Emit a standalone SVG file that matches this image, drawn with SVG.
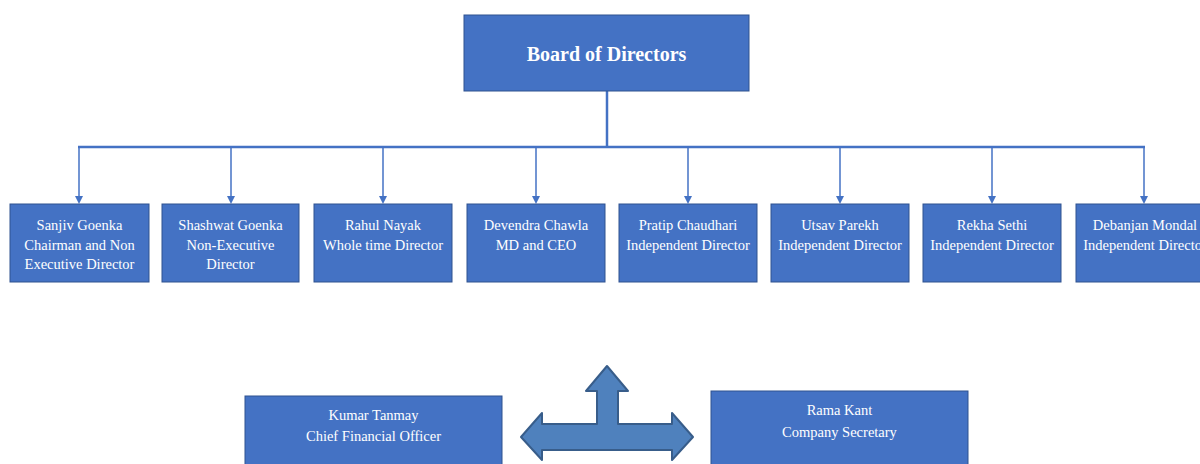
<svg xmlns="http://www.w3.org/2000/svg" width="1200" height="464" viewBox="0 0 1200 464">
<style>
.box{fill:#4472C4;stroke:#2F528F;stroke-width:1}
.t{font-family:"Liberation Serif","Times New Roman",serif;font-size:14.5px;fill:#FFFFFF;text-anchor:middle}
.b{font-family:"Liberation Serif","Times New Roman",serif;font-size:20px;font-weight:bold;fill:#FFFFFF;text-anchor:middle}
.ln{stroke:#4472C4;stroke-width:2.5;fill:none}
.dr{stroke:#4472C4;stroke-width:1.5;fill:none;marker-end:url(#ah)}
</style>
<defs>
<marker id="ah" markerWidth="8" markerHeight="8" refX="4" refY="7" orient="auto" markerUnits="userSpaceOnUse" viewBox="0 0 8 8">
<path d="M0,0 L8,0 L4,7 Z" fill="#4472C4" transform="rotate(-90 4 4)"/>
</marker>
</defs>
<rect width="1200" height="464" fill="#FFFFFF"/>
<g id="connectors">
<line class="ln" x1="607" y1="91" x2="607" y2="147"/>
<line class="ln" x1="78" y1="147" x2="1145" y2="147"/>
<g fill="#4472C4">
<line class="ln" x1="79" y1="147" x2="79" y2="197" style="stroke-width:1.5"/><path d="M75,196 L83,196 L79,204 Z"/>
<line class="ln" x1="231" y1="147" x2="231" y2="197" style="stroke-width:1.5"/><path d="M227,196 L235,196 L231,204 Z"/>
<line class="ln" x1="383" y1="147" x2="383" y2="197" style="stroke-width:1.5"/><path d="M379,196 L387,196 L383,204 Z"/>
<line class="ln" x1="536" y1="147" x2="536" y2="197" style="stroke-width:1.5"/><path d="M532,196 L540,196 L536,204 Z"/>
<line class="ln" x1="688" y1="147" x2="688" y2="197" style="stroke-width:1.5"/><path d="M684,196 L692,196 L688,204 Z"/>
<line class="ln" x1="840" y1="147" x2="840" y2="197" style="stroke-width:1.5"/><path d="M836,196 L844,196 L840,204 Z"/>
<line class="ln" x1="992" y1="147" x2="992" y2="197" style="stroke-width:1.5"/><path d="M988,196 L996,196 L992,204 Z"/>
<line class="ln" x1="1144" y1="147" x2="1144" y2="197" style="stroke-width:1.5"/><path d="M1140,196 L1148,196 L1144,204 Z"/>
</g>
</g>
<g id="board">
<rect class="box" x="464" y="15" width="285" height="76"/>
<text class="b" x="606.5" y="61">Board of Directors</text>
</g>
<g id="n1">
<rect class="box" x="10" y="204" width="139" height="78"/>
<text class="t" x="79.5" y="230">Sanjiv  Goenka</text>
<text class="t" x="79.5" y="250">Chairman and Non</text>
<text class="t" x="79.5" y="269">Executive Director</text>
</g>
<g id="n2">
<rect class="box" x="162" y="204" width="137" height="78"/>
<text class="t" x="230.5" y="230">Shashwat Goenka</text>
<text class="t" x="230.5" y="250">Non-Executive</text>
<text class="t" x="230.5" y="269">Director</text>
</g>
<g id="n3">
<rect class="box" x="314" y="204" width="138" height="78"/>
<text class="t" x="383" y="230">Rahul Nayak</text>
<text class="t" x="383" y="250">Whole time Director</text>
</g>
<g id="n4">
<rect class="box" x="467" y="204" width="138" height="78"/>
<text class="t" x="536" y="230">Devendra Chawla</text>
<text class="t" x="536" y="250">MD and CEO</text>
</g>
<g id="n5">
<rect class="box" x="619" y="204" width="138" height="78"/>
<text class="t" x="688" y="230">Pratip Chaudhari</text>
<text class="t" x="688" y="250">Independent Director</text>
</g>
<g id="n6">
<rect class="box" x="771" y="204" width="138" height="78"/>
<text class="t" x="840" y="230">Utsav Parekh</text>
<text class="t" x="840" y="250">Independent Director</text>
</g>
<g id="n7">
<rect class="box" x="923" y="204" width="138" height="78"/>
<text class="t" x="992" y="230">Rekha Sethi</text>
<text class="t" x="992" y="250">Independent Director</text>
</g>
<g id="n8">
<rect class="box" x="1076" y="204" width="139" height="78"/>
<text class="t" x="1145" y="230">Debanjan Mondal</text>
<text class="t" x="1145" y="250">Independent Director</text>
</g>
<g id="cfo">
<rect class="box" x="245" y="396" width="257" height="80"/>
<text class="t" x="373.5" y="420">Kumar Tanmay</text>
<text class="t" x="373.5" y="441">Chief Financial  Officer</text>
</g>
<g id="cs">
<rect class="box" x="711" y="391" width="257" height="85"/>
<text class="t" x="839.5" y="415">Rama Kant</text>
<text class="t" x="839.5" y="437">Company Secretary</text>
</g>
<g id="arrow">
<path d="M607,366 L628,391 L618,391 L618,424 L672,424 L672,413 L693,437 L672,460 L672,450 L542,450 L542,460 L521,437 L542,413 L542,424 L597,424 L597,391 L586,391 Z" fill="#4F81BD" stroke="#385D8A" stroke-width="2" stroke-linejoin="round"/>
</g>
</svg>
